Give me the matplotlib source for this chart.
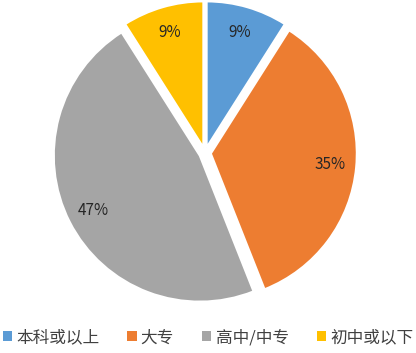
import matplotlib
matplotlib.use("Agg")
import matplotlib.pyplot as plt
from matplotlib.patches import Patch

plt.rcParams['font.family'] = ['Noto Sans CJK SC', 'DejaVu Sans']

categories = ['本科或以上', '大专', '高中/中专', '初中或以下']
values = [9, 35, 47, 9]
colors = ['#5B9BD5', '#ED7D31', '#A5A5A5', '#FFC000']

fig = plt.figure(figsize=(4.16, 3.53), dpi=100)
L = 1.1
R = 146
cx, cy = 205, 200
half = R * L
ax = fig.add_axes([(cx - half) / 416, (cy - half) / 353, 2 * half / 416, 2 * half / 353])
wedges, texts, autotexts = ax.pie(
    values, colors=colors, startangle=90, counterclock=False,
    explode=[0.04] * 4, autopct='%d%%', pctdistance=0.82,
    wedgeprops=dict(edgecolor='white', linewidth=1.5),
    textprops=dict(fontsize=11, color='#262626'))
ax.set_xlim(-L, L)
ax.set_ylim(-L, L)
ax.axis('off')

handles = [Patch(facecolor=c, edgecolor='none') for c in colors]
fig.legend(handles, categories, loc='center', bbox_to_anchor=(0.5, 0.043),
           ncol=4, frameon=False, fontsize=12, handlelength=0.55, handleheight=0.55,
           handletextpad=0.25, columnspacing=1.7, labelcolor='#404040')

fig.savefig('out.png', dpi=100)
